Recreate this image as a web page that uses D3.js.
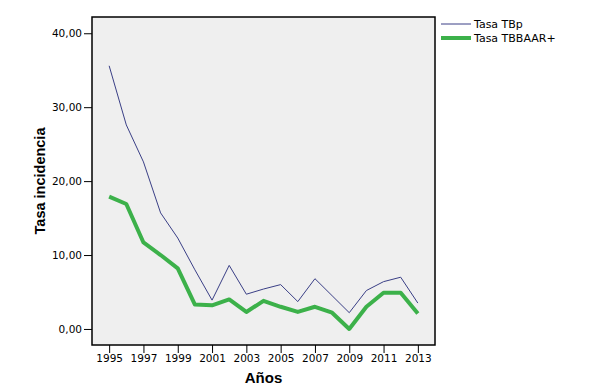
<!DOCTYPE html>
<html>
<head>
<meta charset="utf-8">
<script src="https://cdn.jsdelivr.net/npm/d3@7"></script>
<style>
  body { margin: 0; background: #fff; }
  text { font-family: "Liberation Sans", Arial, sans-serif; }
</style>
</head>
<body>
<div id="chart"></div>
<script>
const years = [1995, 1996, 1997, 1998, 1999, 2000, 2001, 2002, 2003, 2004, 2005, 2006, 2007, 2008, 2009, 2010, 2011, 2012, 2013];
const tasaTBp = [35.6, 27.6, 22.6, 15.7, 12.3, 8.0, 3.9, 8.6, 4.7, 5.4, 6.0, 3.7, 6.8, 4.5, 2.2, 5.2, 6.4, 7.0, 3.5];
const tasaTBBAAR = [17.9, 16.9, 11.7, 10.0, 8.2, 3.3, 3.2, 4.0, 2.3, 3.8, 3.0, 2.3, 3.0, 2.2, 0.0, 3.0, 4.9, 4.9, 2.1];
const xTicks = [1995, 1997, 1999, 2001, 2003, 2005, 2007, 2009, 2011, 2013];
const yTicks = [0, 10, 20, 30, 40];
const seriesNames = ['Tasa TBp', 'Tasa TBBAAR+'];

const width = 593, height = 392;
const margin = { top: 17, right: 158, bottom: 47, left: 92 };
const plotW = width - margin.left - margin.right;
const plotH = height - margin.top - margin.bottom;
const tickFont = "'DejaVu Sans', Verdana, sans-serif";

const svg = d3.select("#chart")
    .append("svg")
    .attr("width", width)
    .attr("height", height);

const g = svg.append("g")
    .attr("transform", `translate(${margin.left},${margin.top})`);

const x = d3.scaleLinear()
    .domain([1994, 2014])
    .range([0, plotW]);

const y = d3.scaleLinear()
    .domain([-2.17, 42.2])
    .range([plotH, 0]);

// plot background
g.append("rect")
    .attr("width", plotW)
    .attr("height", plotH)
    .attr("fill", "#efefef");

const fmt = d => d.toFixed(2).replace(".", ",");

const xAxis = g.append("g")
    .attr("transform", `translate(0,${plotH})`)
    .call(d3.axisBottom(x).tickValues(xTicks).tickFormat(d3.format("d")).tickSize(8).tickPadding(2));

const yAxis = g.append("g")
    .call(d3.axisLeft(y).tickValues(yTicks).tickFormat(fmt).tickSize(8).tickPadding(2));

[xAxis, yAxis].forEach(a => {
    a.select(".domain").remove();
    a.selectAll("line").attr("stroke", "#000");
    a.selectAll("text")
        .attr("fill", "#000")
        .style("font-size", "10.5px")
        .style("font-family", tickFont);
});

// lines
const line = vals => d3.line()
    .x((d, i) => x(years[i]))
    .y(d => y(d))(vals);

g.append("path")
    .attr("d", line(tasaTBp))
    .attr("fill", "none")
    .attr("stroke", "#3a3f86")
    .attr("stroke-width", 1);

g.append("path")
    .attr("d", line(tasaTBBAAR))
    .attr("fill", "none")
    .attr("stroke", "#3cb14a")
    .attr("stroke-width", 4)
    .attr("stroke-linejoin", "round");

// frame
g.append("rect")
    .attr("width", plotW)
    .attr("height", plotH)
    .attr("fill", "none")
    .attr("stroke", "#000")
    .attr("stroke-width", 1.5);

// axis titles
svg.append("text")
    .attr("x", margin.left + plotW / 2)
    .attr("y", 383)
    .attr("text-anchor", "middle")
    .style("font-size", "15px")
    .style("font-weight", "bold")
    .text("Años");

svg.append("text")
    .attr("transform", `translate(45,${margin.top + plotH / 2}) rotate(-90)`)
    .attr("text-anchor", "middle")
    .style("font-size", "14.5px")
    .style("font-weight", "bold")
    .text("Tasa incidencia");

// legend
const legend = svg.append("g")
    .attr("transform", "translate(441,24)");

const legendStyles = [
    { color: "#3a3f86", w: 1 },
    { color: "#3cb14a", w: 4 }
];

seriesNames.forEach((name, i) => {
    const row = legend.append("g").attr("transform", `translate(0,${i * 14})`);
    row.append("line")
        .attr("x1", 0).attr("x2", 30)
        .attr("y1", 0).attr("y2", 0)
        .attr("stroke", legendStyles[i].color)
        .attr("stroke-width", legendStyles[i].w);
    row.append("text")
        .attr("x", 33)
        .attr("y", 4)
        .style("font-size", "11px")
        .style("font-family", tickFont)
        .text(name);
});
</script>
</body>
</html>
